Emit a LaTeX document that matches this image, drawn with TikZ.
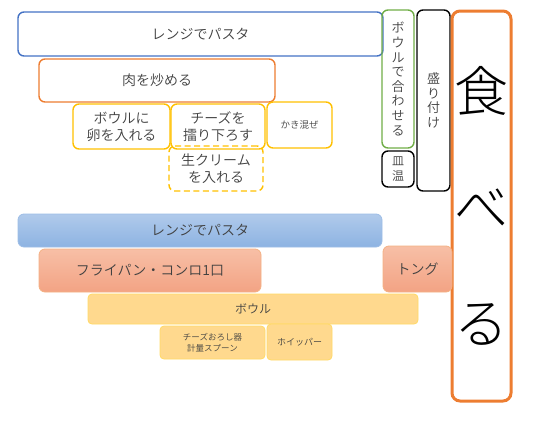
\documentclass[tikz,border=0pt]{standalone}
\usepackage{fontspec}
\setmainfont{Noto Sans CJK JP}[UprightFont={* DemiLight}]
\newfontfamily\lightjp{Noto Sans CJK JP}[UprightFont={* Light}]
\definecolor{txt}{HTML}{404040}
\definecolor{cblue}{HTML}{4472C4}
\definecolor{corange}{HTML}{ED7D31}
\definecolor{cgold}{HTML}{FFC000}
\definecolor{cgreen}{HTML}{70AD47}
\definecolor{bluetop}{HTML}{B0CAEB}
\definecolor{bluebot}{HTML}{8DB3E2}
\definecolor{blueline}{HTML}{9DBDE6}
\definecolor{saltop}{HTML}{F7BFA6}
\definecolor{salbot}{HTML}{F3A384}
\definecolor{salline}{HTML}{F4B183}
\definecolor{yelfill}{HTML}{FFD98E}
\definecolor{yelline}{HTML}{FFD966}
\tikzset{
  box/.style={rounded corners=6pt, inner sep=0pt, text=txt, align=center, line width=1.4pt},
}
\begin{document}
\begin{tikzpicture}[x=1pt,y=-1pt]
\useasboundingbox (0,0) rectangle (550,421);
% top section
\node[box, draw=cblue, minimum width=365pt, minimum height=44pt, font=\fontsize{14}{17}\selectfont] (pasta1) at (200.5,34) {レンジでパスタ};
\node[box, draw=corange, minimum width=236pt, minimum height=43pt, font=\fontsize{14}{17}\selectfont] (niku) at (157,80.5) {肉を炒める};
\node[box, draw=cgold, minimum width=97pt, minimum height=45pt, font=\fontsize{14}{17}\selectfont] (tamago) at (121.5,126.5) {ボウルに\\卵を入れる};
\node[box, draw=cgold, minimum width=94pt, minimum height=45pt, font=\fontsize{14}{17}\selectfont] (cheese) at (218,126.5) {チーズを\\擂り下ろす};
\node[box, draw=cgold, minimum width=65pt, minimum height=46pt, font=\fontsize{9.5}{11}\selectfont] (kakimaze) at (299.5,125) {かき混ぜ};
\node[box, draw=cgold, dash pattern=on 6pt off 3.5pt, minimum width=94pt, minimum height=45pt, font=\fontsize{14}{17}\selectfont] (cream) at (216,168.5) {生クリーム\\を入れる};
% right columns
\node[box, draw=cgreen, minimum width=32pt, minimum height=138pt, font=\fontsize{13}{14.6}\selectfont] (awase) at (398,79) {ボ\\ウ\\ル\\で\\合\\わ\\せ\\る};
\node[box, draw=black, minimum width=32pt, minimum height=36pt, font=\fontsize{12}{14.5}\selectfont] (saraon) at (398,169) {皿\\温};
\node[box, draw=black, minimum width=33pt, minimum height=181pt, font=\fontsize{13}{14.5}\selectfont] (mori) at (433.5,100.5) {盛\\り\\付\\け};
\node[box, draw=corange, line width=3pt, rounded corners=8pt, text=black, minimum width=59pt, minimum height=390pt, font=\lightjp\fontsize{54}{116}\selectfont] (taberu) at (481.5,206) {食\\べ\\る};
% bottom section
\node[box, line width=0.8pt, draw=blueline, top color=bluetop, bottom color=bluebot, minimum width=364pt, minimum height=33pt, font=\fontsize{14}{17}\selectfont] (pasta2) at (200,230.5) {レンジでパスタ};
\node[box, line width=0.8pt, draw=salline, top color=saltop, bottom color=salbot, minimum width=222pt, minimum height=43pt, font=\fontsize{14}{17}\selectfont] (frypan) at (150,270.5) {フライパン・コンロ1口};
\node[box, line width=0.8pt, draw=salline, top color=saltop, bottom color=salbot, minimum width=69pt, minimum height=46pt, font=\fontsize{14}{17}\selectfont] (tong) at (417.5,269) {トング};
\node[box, line width=0.8pt, rounded corners=4pt, draw=yelline, fill=yelfill, minimum width=330pt, minimum height=30pt, font=\fontsize{12}{14}\selectfont] (bowl) at (253,309) {ボウル};
\node[box, line width=0.8pt, rounded corners=4pt, draw=yelline, fill=yelfill, minimum width=105pt, minimum height=33pt, font=\fontsize{8.5}{10.5}\selectfont] (grater) at (212.5,342.5) {チーズおろし器\\計量スプーン};
\node[box, line width=0.8pt, rounded corners=4pt, draw=yelline, fill=yelfill, minimum width=65pt, minimum height=36pt, font=\fontsize{9}{11}\selectfont] (whip) at (299.5,342) {ホイッパー};
\end{tikzpicture}
\end{document}
